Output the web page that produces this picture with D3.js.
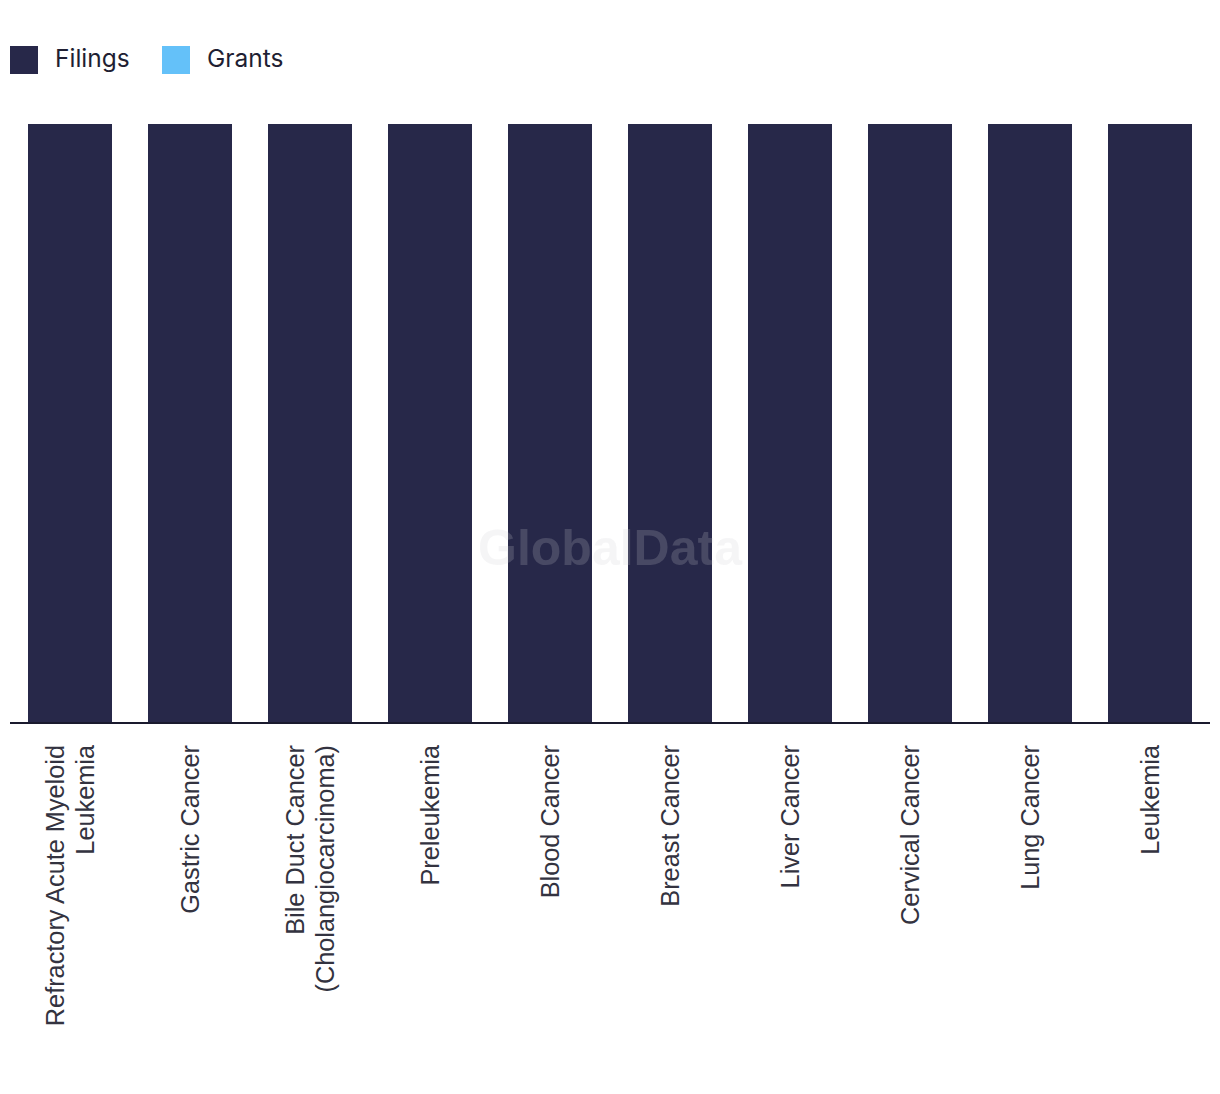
<!DOCTYPE html>
<html><head><meta charset="utf-8">
<script src="https://cdn.jsdelivr.net/npm/d3@7"></script>
<style>body{margin:0;background:#fff}</style>
</head><body>
<svg id="chart" width="1220" height="1094"></svg>
<script>
const categories = [
  ["Refractory Acute Myeloid","Leukemia"],
  ["Gastric Cancer"],
  ["Bile Duct Cancer","(Cholangiocarcinoma)"],
  ["Preleukemia"],
  ["Blood Cancer"],
  ["Breast Cancer"],
  ["Liver Cancer"],
  ["Cervical Cancer"],
  ["Lung Cancer"],
  ["Leukemia"]
];
const filings = [1,1,1,1,1,1,1,1,1,1];
const grants  = [0,0,0,0,0,0,0,0,0,0];
const seriesNames = ["Filings","Grants"];
const colors = ["#272849","#64c1f9"];

(function(){
const svg = d3.select("#chart");
const mLeft = 10, mRight = 1210, mTop = 124, mBottom = 723;
const keys = categories.map(c => c.join(" "));
const x = d3.scaleBand().domain(keys).range([mLeft,mRight]).paddingInner(0.3).paddingOuter(0.15);
const y = d3.scaleLinear().domain([0, d3.max(filings.map((f,i)=>f+grants[i]))]).range([mBottom, mTop]);

// Legend
const lg = svg.append("g");
seriesNames.forEach((n,i)=>{
  const xo = [10,162][i];
  lg.append("rect").attr("x",xo).attr("y",46).attr("width",28).attr("height",28).attr("fill",colors[i]);
  lg.append("text").attr("x",xo+45).attr("y",66.5).text(n)
    .attr("font-family","Inter, 'Open Sans', sans-serif").attr("font-size",24.5).attr("fill","#1f1f33");
});

// bars (stacked)
const data = keys.map((k,i)=>({k, f:filings[i], g:grants[i]}));
svg.append("g").selectAll("rect").data(data).join("rect")
  .attr("x",d=>x(d.k)).attr("width",x.bandwidth())
  .attr("y",d=>y(d.f)).attr("height",d=>y(0)-y(d.f)).attr("fill",colors[0]);
svg.append("g").selectAll("rect").data(data.filter(d=>d.g>0)).join("rect")
  .attr("x",d=>x(d.k)).attr("width",x.bandwidth())
  .attr("y",d=>y(d.f+d.g)).attr("height",d=>y(d.f)-y(d.f+d.g)).attr("fill",colors[1]);

// watermark
svg.append("text").attr("x",610).attr("y",565).attr("text-anchor","middle")
  .attr("font-family","'Liberation Sans', Arial, sans-serif").attr("font-weight","bold").attr("font-size",50)
  .attr("fill","rgb(203,203,210)").attr("fill-opacity",0.2).text("GlobalData");

// axis
const ax = svg.append("g").attr("transform",`translate(0,${mBottom})`)
  .call(d3.axisBottom(x).tickSize(0).tickFormat(""));
ax.select(".domain").attr("stroke","#1a1a2e").attr("stroke-width",2).attr("d",`M${mLeft},0H${mRight}`);

// labels
const lab = svg.append("g");
categories.forEach((lines,i)=>{
  const cx = x(keys[i]) + x.bandwidth()/2;
  const lh = 30;
  const n = lines.length;
  lines.forEach((ln,j)=>{
    const off = (j - (n-1)/2)*lh;
    lab.append("text")
      .attr("transform",`translate(${cx+off+8.5},745) rotate(-90)`)
      .attr("text-anchor","end")
      .attr("font-family","'Liberation Sans', Arial, sans-serif").attr("font-size",25.3)
      .attr("fill","#333340").text(ln);
  });
});
})();
</script>
</body></html>
